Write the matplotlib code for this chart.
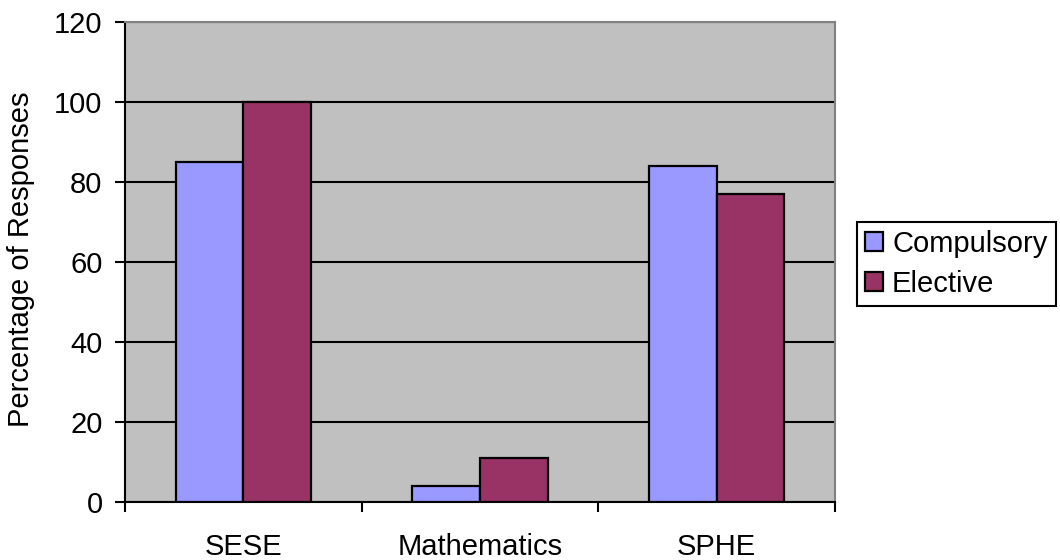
import numpy as np
import matplotlib
matplotlib.use('Agg')
import matplotlib.pyplot as plt

# Datos
categorias = ['SESE', 'Mathematics', 'SPHE']
compulsory = [85, 4, 84]
elective = [100, 11, 77]
series_nombres = ['Compulsory', 'Elective']
ticks_y = [0, 20, 40, 60, 80, 100, 120]

plt.rcParams['font.family'] = ['Liberation Sans', 'DejaVu Sans']
tam_fuente = 21

fig = plt.figure(figsize=(10.6, 5.6), dpi=100)
ax = fig.add_axes([125/1060, 1 - 502/560, 710/1060, 480/560])
ax.set_facecolor('#C0C0C0')

x = np.arange(len(categorias))
ancho = 1/3.5

ax.set_axisbelow(True)
ax.yaxis.grid(True, color='black', linewidth=1.5)

ax.bar(x - ancho/2, compulsory, ancho, color='#9999FF', edgecolor='black',
       linewidth=1.6, label=series_nombres[0], zorder=3)
ax.bar(x + ancho/2, elective, ancho, color='#993366', edgecolor='black',
       linewidth=1.6, label=series_nombres[1], zorder=3)

ax.set_xlim(-0.5, len(categorias) - 0.5)
ax.set_ylim(0, 120)
ax.set_yticks(ticks_y)
ax.set_xticks(x)
ax.set_xticklabels(categorias)
ax.set_xticks(np.arange(len(categorias) + 1) - 0.5, minor=True)

ax.tick_params(axis='x', which='major', length=0, pad=22, labelsize=tam_fuente)
ax.tick_params(axis='x', which='minor', length=7.2, width=1.5, direction='out')
ax.tick_params(axis='y', length=7.2, width=1.5, direction='out', pad=9, labelsize=tam_fuente)

for lado in ['left', 'bottom']:
    ax.spines[lado].set_color('black')
    ax.spines[lado].set_linewidth(1.5)
for lado in ['top', 'right']:
    ax.spines[lado].set_color('#808080')
    ax.spines[lado].set_linewidth(1.5)

ax.set_ylabel('Percentage of Responses', fontsize=tam_fuente)
ax.yaxis.set_label_coords((35 - 125)/710, 0.506)

leg = ax.legend(loc='lower left', bbox_to_anchor=(857/1060, 1 - 306/560),
                bbox_transform=fig.transFigure, fontsize=tam_fuente, frameon=True,
                fancybox=False, edgecolor='black', framealpha=1, borderpad=0.28,
                handlelength=0.62, handleheight=0.62, handletextpad=0.3,
                labelspacing=0.4, borderaxespad=0)
leg.get_frame().set_linewidth(1.5)

fig.savefig('out.png', dpi=100)
